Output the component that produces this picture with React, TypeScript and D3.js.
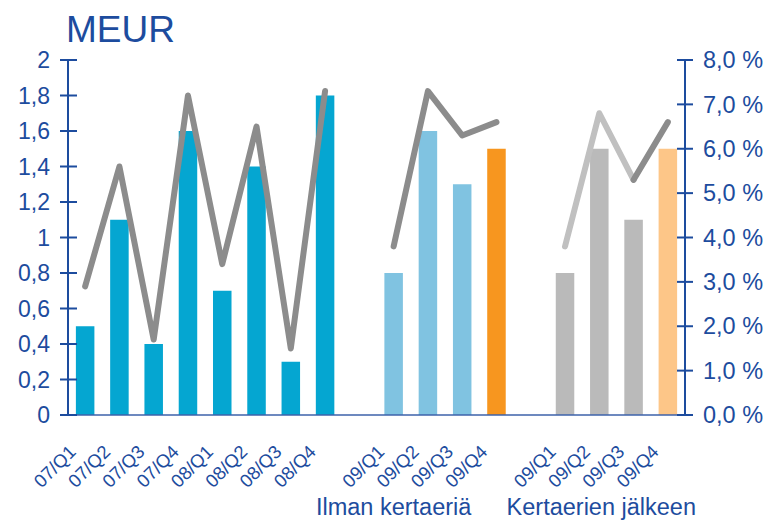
import React from "react";
import * as d3 from "d3";

const quartersA = ["07/Q1", "07/Q2", "07/Q3", "07/Q4", "08/Q1", "08/Q2", "08/Q3", "08/Q4"];
const quartersB = ["09/Q1", "09/Q2", "09/Q3", "09/Q4"];
const quartersC = ["09/Q1", "09/Q2", "09/Q3", "09/Q4"];

const profitA = [0.5, 1.1, 0.4, 1.6, 0.7, 1.4, 0.3, 1.8];
const profitB = [0.8, 1.6, 1.3, 1.5];
const profitC = [0.8, 1.5, 1.1, 1.5];

const marginA = [2.9, 5.6, 1.7, 7.2, 3.4, 6.5, 1.5, 7.3];
const marginB = [3.8, 7.3, 6.3, 6.6];
const marginC = [3.8, 6.8, 5.3, 6.6];

const groupLabels = ["Ilman kertaeriä", "Kertaerien jälkeen"];
const leftTicks = [0, 0.2, 0.4, 0.6, 0.8, 1, 1.2, 1.4, 1.6, 1.8, 2];
const rightTicks = [0, 1, 2, 3, 4, 5, 6, 7, 8];

const W = 767;
const H = 520;
const X0 = 68;
const X1 = 685;
const Y0 = 415;
const Y1 = 60;

const BLUE_TEXT = "#1d4c9e";
const AXIS = "#1d4c9e";
const FONT = "'Liberation Sans', Arial, sans-serif";

type Slot = { key: string; label: string; value: number; margin: number; color: string };

const slots: (Slot | null)[] = [];
quartersA.forEach((q, i) =>
  slots.push({ key: "a" + i, label: q, value: profitA[i], margin: marginA[i], color: "#05a6d1" })
);
slots.push(null);
quartersB.forEach((q, i) =>
  slots.push({ key: "b" + i, label: q, value: profitB[i], margin: marginB[i], color: i === 3 ? "#f7961f" : "#80c3e1" })
);
slots.push(null);
quartersC.forEach((q, i) =>
  slots.push({ key: "c" + i, label: q, value: profitC[i], margin: marginC[i], color: i === 3 ? "#fdc688" : "#bababa" })
);

const keys = slots.map((s, i) => (s ? s.key : "gap" + i));

const x = d3.scaleBand<string>().domain(keys).range([X0, X1]).paddingInner(0.46).paddingOuter(0.23);
const yL = d3.scaleLinear().domain([0, 2]).range([Y0, Y1]);
const yR = d3.scaleLinear().domain([0, 8]).range([Y0, Y1]);

const cx = (k: string) => (x(k) as number) + x.bandwidth() / 2;

const line = d3
  .line<[string, number]>()
  .x((d) => cx(d[0]))
  .y((d) => yR(d[1]));

const fmtL = (v: number) => String(v).replace(".", ",");
const fmtR = (v: number) => v.toFixed(1).replace(".", ",") + " %";

export default function App() {
  const ptsA: [string, number][] = marginA.map((m, i) => ["a" + i, m]);
  const ptsB: [string, number][] = marginB.map((m, i) => ["b" + i, m]);
  const ptsC: [string, number][] = marginC.map((m, i) => ["c" + i, m]);
  const DARK = "#8c8c8c";
  const LIGHT = "#c0c0c0";
  return (
    <svg
      width={W}
      height={H}
      style={{ position: "absolute", left: 0, top: 0, background: "#fff" }}
      fontFamily={FONT}
    >
      {/* title */}
      <text x={66} y={42} fontSize={37} fill={BLUE_TEXT}>
        MEUR
      </text>

      {/* bars */}
      {slots.map((s) =>
        s ? (
          <rect
            key={s.key}
            x={x(s.key)}
            y={yL(s.value)}
            width={x.bandwidth()}
            height={Y0 - yL(s.value)}
            fill={s.color}
          />
        ) : null
      )}

      {/* baseline */}
      <line x1={60} x2={X1} y1={Y0} y2={Y0} stroke="#3d62aa" strokeWidth={1.5} />

      {/* left axis */}
      <line x1={X0} x2={X0} y1={Y1} y2={Y0} stroke={AXIS} strokeWidth={2} />
      {leftTicks.map((t) => (
        <g key={"l" + t}>
          <line x1={60} x2={77} y1={yL(t)} y2={yL(t)} stroke={AXIS} strokeWidth={2} />
          <text x={50} y={yL(t)} dy="0.35em" textAnchor="end" fontSize={23} fill={BLUE_TEXT}>
            {fmtL(t)}
          </text>
        </g>
      ))}

      {/* right axis */}
      <line x1={X1} x2={X1} y1={Y1} y2={Y0} stroke={AXIS} strokeWidth={2} />
      {rightTicks.map((t) => (
        <g key={"r" + t}>
          <line x1={677} x2={693} y1={yR(t)} y2={yR(t)} stroke={AXIS} strokeWidth={2} />
          <text x={703} y={yR(t)} dy="0.35em" textAnchor="start" fontSize={23.5} fill={BLUE_TEXT}>
            {fmtR(t)}
          </text>
        </g>
      ))}

      {/* lines */}
      <g fill="none" strokeWidth={6} strokeLinecap="round" strokeLinejoin="round">
        <path d={line(ptsA) || ""} stroke={DARK} />
        <path d={line(ptsB) || ""} stroke={DARK} />
        <path d={line(ptsC.slice(0, 3)) || ""} stroke={LIGHT} />
        <path d={line(ptsC.slice(2, 4)) || ""} stroke={DARK} />
      </g>

      {/* x labels */}
      {slots.map((s) =>
        s ? (
          <text
            key={"t" + s.key}
            transform={`translate(${cx(s.key) - 8},${453}) rotate(-45)`}
            textAnchor="end"
            fontSize={18.5}
            fill={BLUE_TEXT}
          >
            {s.label}
          </text>
        ) : null
      )}

      {/* group labels */}
      <text x={cx("b0")} y={515} textAnchor="middle" fontSize={23.5} fill={BLUE_TEXT}>
        {groupLabels[0]}
      </text>
      <text x={cx("c1") + 2} y={515} textAnchor="middle" fontSize={23.5} fill={BLUE_TEXT}>
        {groupLabels[1]}
      </text>
    </svg>
  );
}
